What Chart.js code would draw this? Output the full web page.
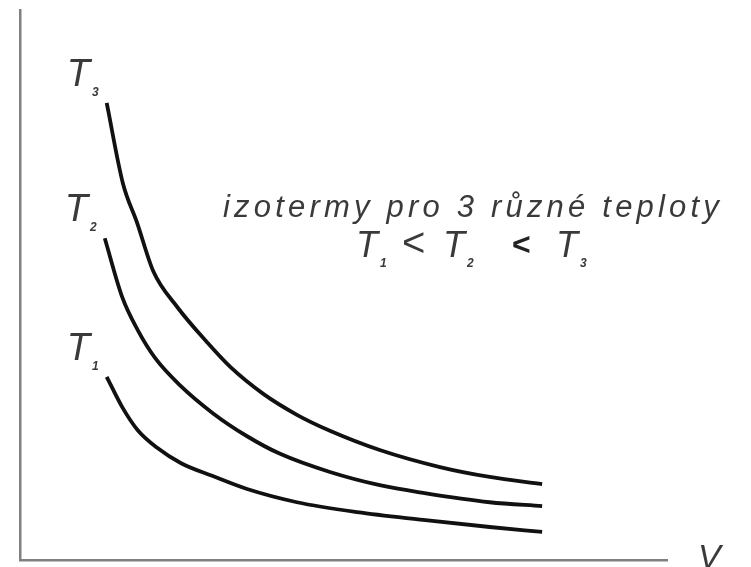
<!DOCTYPE html>
<html>
<head>
<meta charset="utf-8">
<title>izotermy</title>
<script src="https://cdn.jsdelivr.net/npm/chart.js@4/dist/chart.umd.min.js"></script>
<style>
  html, body { margin: 0; padding: 0; background: #fff; overflow: hidden; }
  #wrap { width: 751px; height: 567px; }
</style>
</head>
<body>
<div id="wrap"><canvas id="chart" width="751" height="567"></canvas></div>
<script>
// isotherm points (V, p in arbitrary units)
const volT3 = [1.34, 1.59, 1.81, 2.06, 2.43, 2.89, 3.25, 3.76, 4.28, 4.79, 5.56, 6.49, 7.26, 8.07];
const presT3 = [8.31, 6.85, 6.13, 5.25, 4.60, 3.96, 3.51, 3.02, 2.64, 2.35, 2.00, 1.69, 1.51, 1.38];

const volT2 = [1.31, 1.58, 1.82, 2.09, 2.47, 2.98, 3.51, 4.02, 4.79, 5.56, 6.23, 7.26, 8.07];
const presT2 = [5.85, 4.78, 4.18, 3.67, 3.18, 2.67, 2.25, 1.93, 1.60, 1.36, 1.22, 1.05, 0.98];

const volT1 = [1.34, 1.58, 1.82, 2.12, 2.49, 2.97, 3.51, 4.28, 5.21, 6.23, 7.26, 8.07];
const presT1 = [3.33, 2.78, 2.36, 2.04, 1.76, 1.53, 1.29, 1.05, 0.87, 0.73, 0.60, 0.51];

const seriesNames = ["T1", "T2", "T3"];
const titleLine = "izotermy pro 3 různé teploty";

function toPoints(xs, ys) {
  return xs.map((x, i) => ({ x: x, y: ys[i] }));
}

function curve(label, xs, ys) {
  return {
    label: label,
    data: toPoints(xs, ys),
    showLine: true,
    borderColor: "#111",
    borderWidth: 3.8,
    pointRadius: 0,
    cubicInterpolationMode: "monotone",
    fill: false
  };
}

// draws T labels, the caption and the axis letters
const textPlugin = {
  id: "texts",
  afterDraw(chart) {
    const ctx = chart.ctx;
    const xs = chart.scales.x;
    const ys = chart.scales.y;
    ctx.save();
    ctx.fillStyle = "#3a3a3a";
    ctx.textBaseline = "alphabetic";

    function tLabel(x, y, sub, size) {
      ctx.font = "italic " + size + "px 'Liberation Sans', Arial, sans-serif";
      ctx.textAlign = "left";
      ctx.fillText("T", x, y);
      const w = ctx.measureText("T").width;
      ctx.font = "italic bold " + Math.round(size * 0.32) + "px 'Liberation Sans', Arial, sans-serif";
      ctx.fillText(sub, x + w + 2, y + 10);
    }

    // labels next to the curve starts
    const lab = [
      [volT1[0], presT1[0], "1"],
      [volT2[0], presT2[0], "2"],
      [volT3[0], presT3[0], "3"]
    ];
    lab.forEach(([vx, py, s]) => {
      const px = xs.getPixelForValue(vx);
      const pyy = ys.getPixelForValue(py);
      tLabel(px - 40, pyy - 17, s, 38);
    });

    // caption
    ctx.font = "italic 31px 'Liberation Sans', Arial, sans-serif";
    ctx.textAlign = "center";
    if ("letterSpacing" in ctx) ctx.letterSpacing = "4.2px";
    ctx.fillText(titleLine, 473, 217);
    if ("letterSpacing" in ctx) ctx.letterSpacing = "0px";

    // T1 < T2 < T3
    tLabel(356, 257, "1", 36);
    ctx.textAlign = "left";
    ctx.font = "40px 'Liberation Sans', Arial, sans-serif";
    ctx.fillText("<", 402, 256);
    tLabel(443, 257, "2", 36);
    ctx.fillStyle = "#222";
    ctx.font = "bold 32px 'Liberation Sans', Arial, sans-serif";
    ctx.fillText("<", 512, 255);
    ctx.fillStyle = "#3a3a3a";
    tLabel(556, 257, "3", 36);

    // axis letters
    ctx.font = "italic 34px 'Liberation Sans', Arial, sans-serif";
    ctx.fillText("V", 698, 568);
    ctx.fillText("p", -7, 0);
    ctx.restore();
  }
};

new Chart(document.getElementById("chart"), {
  type: "scatter",
  data: {
    datasets: [
      curve(seriesNames[0], volT1, presT1),
      curve(seriesNames[1], volT2, presT2),
      curve(seriesNames[2], volT3, presT3)
    ]
  },
  options: {
    responsive: false,
    animation: false,
    layout: { padding: { left: 20, top: 10, right: 84, bottom: 7 } },
    plugins: {
      legend: { display: false },
      tooltip: { enabled: false }
    },
    scales: {
      x: {
        type: "linear",
        min: 0,
        max: 10,
        grid: { display: false, drawTicks: false },
        ticks: { display: false },
        border: { color: "#808080", width: 2.5 },
        afterFit(scale) { scale.height = 0; }
      },
      y: {
        type: "linear",
        min: 0,
        max: 10,
        grid: { display: false, drawTicks: false },
        ticks: { display: false },
        border: { color: "#808080", width: 2.5 },
        afterFit(scale) { scale.width = 0; }
      }
    }
  },
  plugins: [textPlugin]
});
</script>
</body>
</html>
